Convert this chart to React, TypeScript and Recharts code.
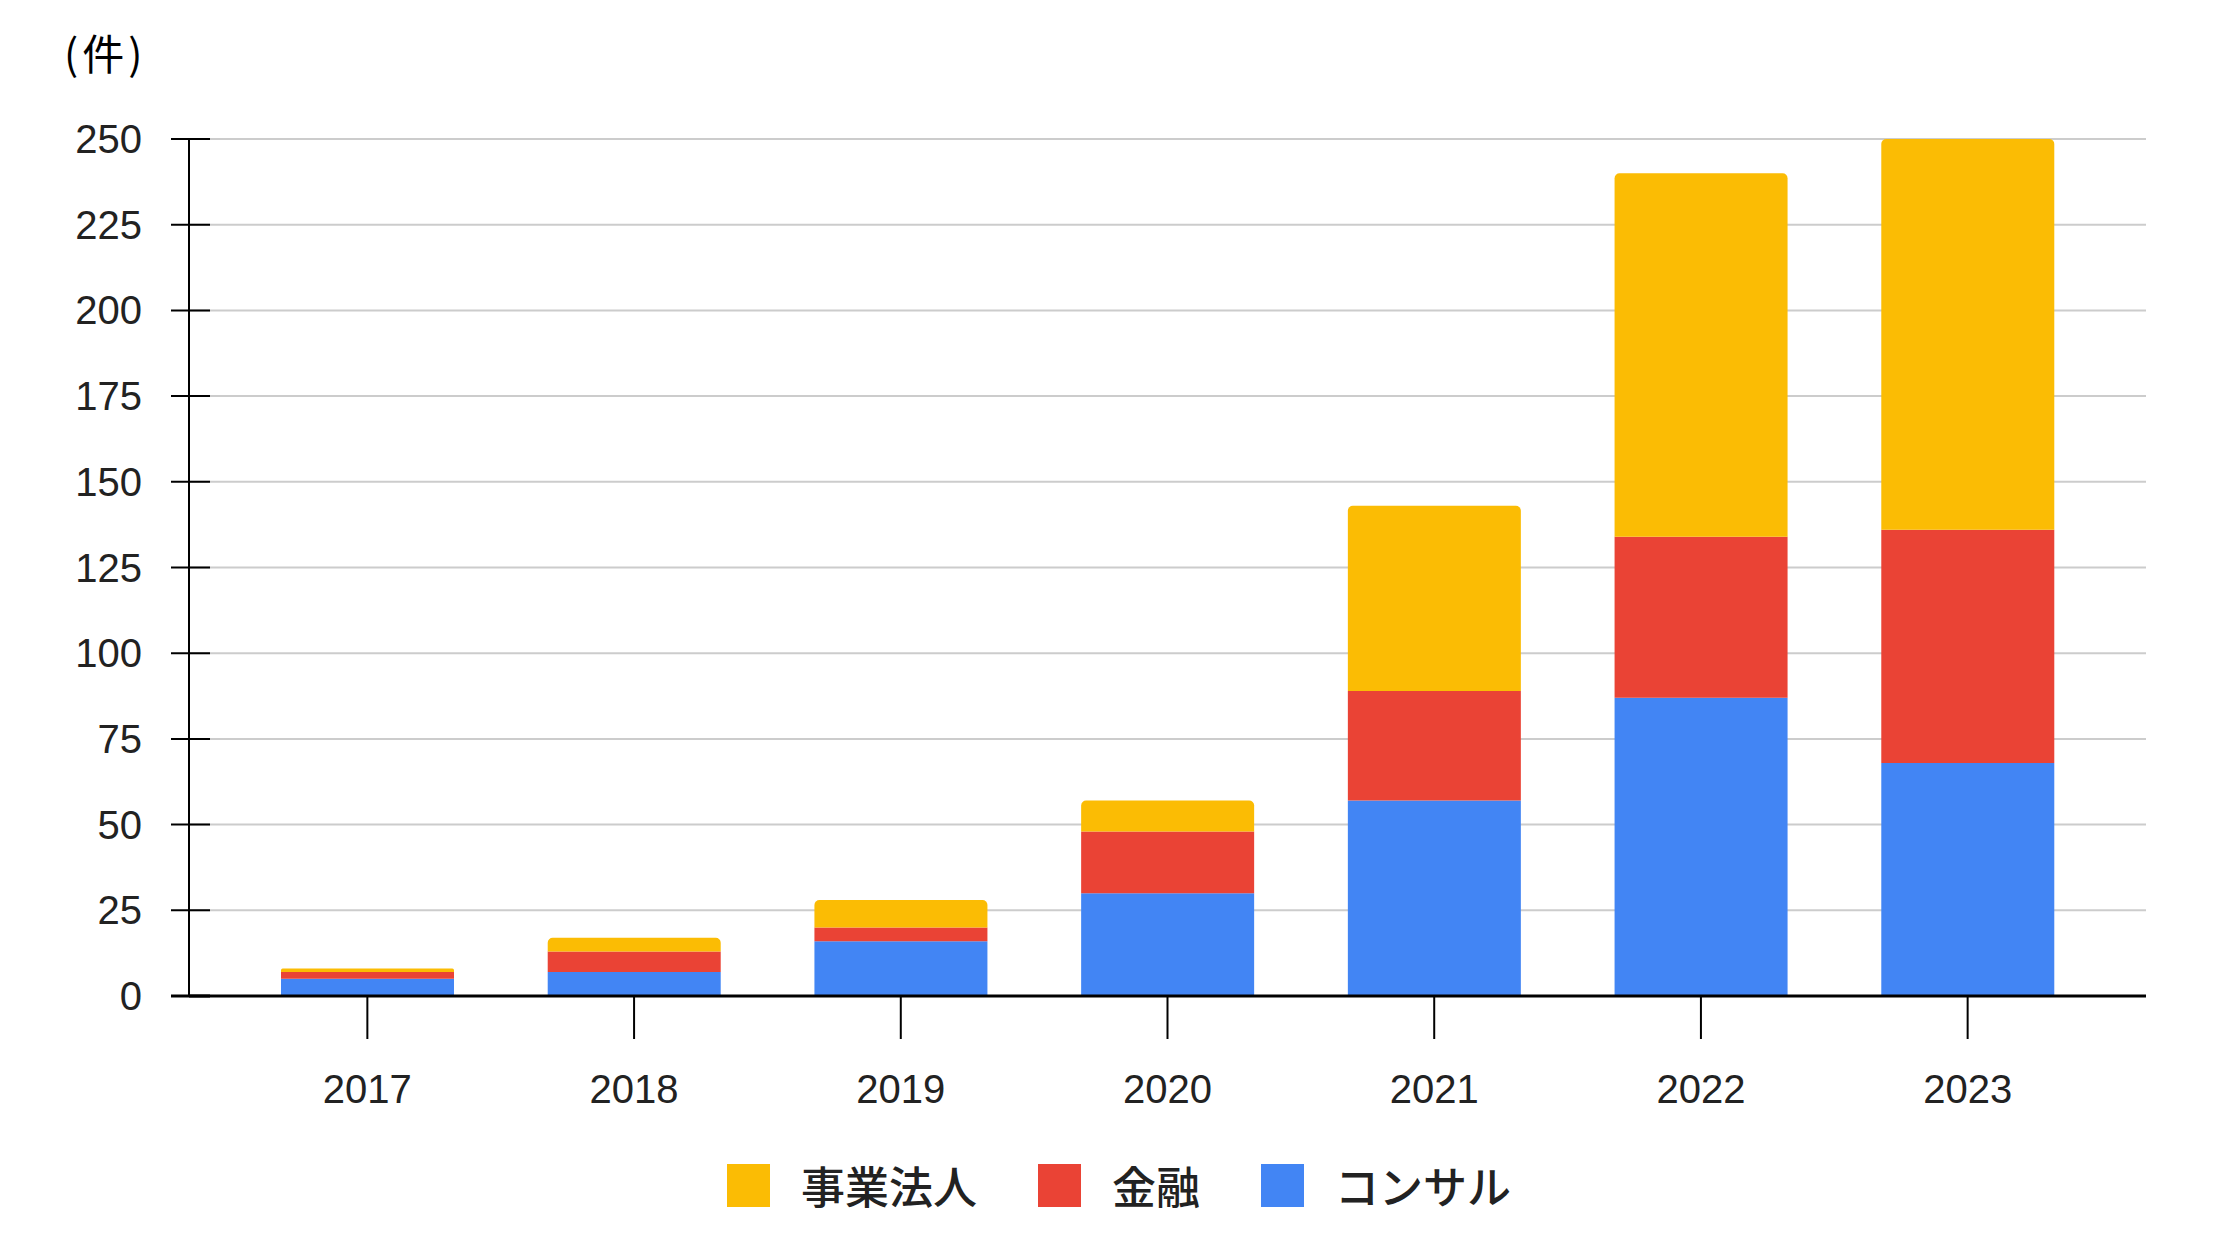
import { BarChart, Bar, XAxis, YAxis, CartesianGrid, Legend } from 'recharts';

const years = ['2017', '2018', '2019', '2020', '2021', '2022', '2023'];
const consul = [5, 7, 16, 30, 57, 87, 68];
const finance = [2, 6, 4, 18, 32, 47, 68];
const corporate = [1, 4, 8, 9, 54, 106, 114];
const yTicks = [0, 25, 50, 75, 100, 125, 150, 175, 200, 225, 250];
const legendOrder = ['事業法人', '金融', 'コンサル'];

const BLUE = '#4285f4';
const RED = '#ea4335';
const YELLOW = '#fbbc04';
const TEXT = '#222';
const LATIN = '"Liberation Sans", Arial, sans-serif';
const CJK = '"Noto Sans CJK JP", sans-serif';

const data = years.map((year, i) => ({
    year,
    consul: consul[i],
    finance: finance[i],
    corporate: corporate[i],
}));

// y ticks cross the axis line, so the line is drawn by hand
const YTick = (props: any) => {
    const { x, y, payload } = props;
    const start = x + 29;
    return (
        <g>
            <line x1={start} x2={start + 39} y1={y} y2={y} stroke="#000" strokeWidth={payload.value === 0 ? 3 : 2} />
            <text x={x} y={y} dy="0.35em" textAnchor="end" fill={TEXT} fontSize={40} fontFamily={LATIN}>
                {payload.value}
            </text>
        </g>
    );
};

const LegendContent = (props: any) => {
    const items = legendOrder
        .map(name => (props.payload || []).find((p: any) => p.value === name))
        .filter(Boolean);
    return (
        <div style={{ display: 'flex', alignItems: 'center', height: 70, paddingLeft: 727 }}>
            {items.map((item: any) => (
                <div key={item.value} style={{ display: 'flex', alignItems: 'center', marginRight: 61 }}>
                    <span style={{ width: 43, height: 43, background: item.color, marginRight: 31, display: 'inline-block' }} />
                    <span style={{ fontSize: 44, fontFamily: CJK, fontWeight: 500, color: TEXT, lineHeight: 1 }}>{item.value}</span>
                </div>
            ))}
        </div>
    );
};

export default function App() {
    return (
        <div style={{ position: 'absolute', left: 0, top: 0, width: 2231, height: 1243, background: '#fff' }}>
            <div style={{ position: 'absolute', left: 64, top: 31, fontSize: 42, letterSpacing: 4, fontFamily: CJK, color: '#000', lineHeight: 1 }}>
                (件)
            </div>
            <BarChart width={2231} height={1243} data={data} margin={{ top: 139, right: 85, left: 0, bottom: 23 }}>
                <CartesianGrid vertical={false} stroke="#cccccc" strokeWidth={2} />
                <XAxis
                    dataKey="year"
                    height={154}
                    padding={{ left: 45, right: 45 }}
                    axisLine={{ stroke: '#000', strokeWidth: 3 }}
                    tickLine={{ stroke: '#000', strokeWidth: 2 }}
                    tickSize={43}
                    tickMargin={36}
                    tick={{ fill: TEXT, fontSize: 40, fontFamily: LATIN }}
                />
                <YAxis
                    width={189}
                    domain={[0, 250]}
                    ticks={yTicks}
                    allowDataOverflow
                    interval={0}
                    axisLine={{ stroke: '#000', strokeWidth: 2 }}
                    tickLine={false}
                    tickSize={18}
                    tickMargin={29}
                    tick={<YTick />}
                />
                <Legend verticalAlign="bottom" wrapperStyle={{ left: 0, width: 2231 }} content={<LegendContent />} />
                <Bar dataKey="consul" name="コンサル" stackId="a" fill={BLUE} barSize={173} isAnimationActive={false} />
                <Bar dataKey="finance" name="金融" stackId="a" fill={RED} barSize={173} isAnimationActive={false} />
                <Bar dataKey="corporate" name="事業法人" stackId="a" fill={YELLOW} barSize={173} radius={[5, 5, 0, 0]} isAnimationActive={false} />
            </BarChart>
        </div>
    );
}
